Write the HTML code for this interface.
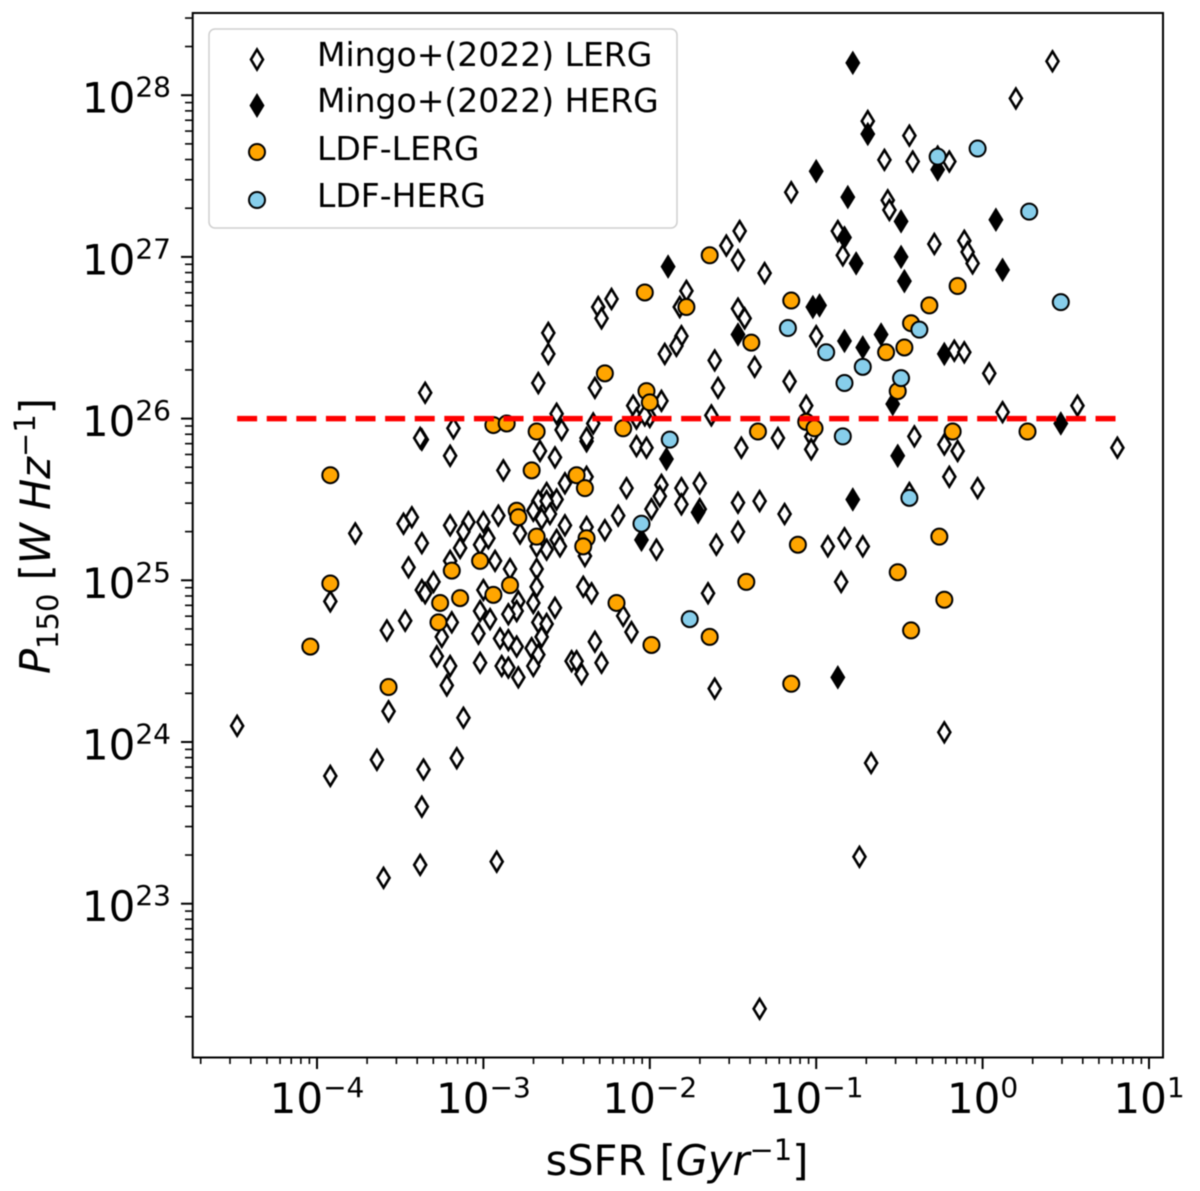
<!DOCTYPE html>
<html lang="en">
<head>
<meta charset="utf-8">
<title>sSFR vs P150</title>
<style>
html,body{margin:0;padding:0;background:#fff;}
svg{display:block;font-family:"DejaVu Sans",sans-serif;fill:#000;filter:blur(0.5px);}
</style>
</head>
<body>
<svg id="chart" xmlns="http://www.w3.org/2000/svg" width="1200" height="1191" viewBox="0 0 1200 1191">
  <rect x="193" y="13" width="970" height="1044" fill="#fff"/>
  <g id="ticks"></g>
  <g id="mingo-lerg"></g>
  <g id="mingo-herg"></g>
  <g id="ldf-lerg"></g>
  <g id="ldf-herg"></g>
  <line id="ref-line" stroke="#ff0000" stroke-width="5.5" stroke-dasharray="20 9.6"/>
  <rect x="192.7" y="13" width="970.3" height="1044.5" fill="none" stroke="#000" stroke-width="2"/>
  <g>
    <rect x="209" y="29" width="468" height="199" rx="6" fill="#fff" fill-opacity="0.85" stroke="#cfcfcf" stroke-width="1.5"/>
    <path d="M257 49.5 L263 59.5 L257 69.5 L251 59.5 Z" fill="#fff" stroke="#000" stroke-width="2.6"/>
    <text x="317" y="66" font-size="33">Mingo+(2022) LERG</text>
    <path d="M257 95.5 L263 105.5 L257 115.5 L251 105.5 Z" fill="#000" stroke="#000" stroke-width="2.6"/>
    <text x="317" y="112" font-size="33">Mingo+(2022) HERG</text>
    <circle cx="257" cy="152" r="8" fill="#ffa500" stroke="#000" stroke-width="2"/>
    <text x="317" y="160" font-size="33">LDF-LERG</text>
    <circle cx="257" cy="200" r="8" fill="#87ceeb" stroke="#000" stroke-width="2"/>
    <text x="317" y="207" font-size="33">LDF-HERG</text>
  </g>
  <text x="677" y="1175" font-size="41.5" text-anchor="middle">sSFR [<tspan font-style="italic">Gyr</tspan><tspan font-size="29" dy="-15">−1</tspan><tspan dy="15">]</tspan></text>
  <text transform="translate(50 536) rotate(-90)" font-size="41.5" text-anchor="middle"><tspan font-style="italic">P</tspan><tspan font-size="29" dy="8">150</tspan><tspan dy="-8"> [</tspan><tspan font-style="italic">W Hz</tspan><tspan font-size="29" dy="-15">−1</tspan><tspan dy="15">]</tspan></text>
</svg>
<script>
// Values are log10(sSFR / Gyr^-1) and log10(P150 / W Hz^-1).
var xTickExponents = [-4, -3, -2, -1, 0, 1];
var yTickExponents = [28, 27, 26, 25, 24, 23];
var referenceLogP = 26;
var referenceLogSSFR = [-4.48, 0.81];

var mingoLergLogSSFR = [-3.37,-3.20,-2.66,-2.57,-2.88,-2.38,-2.38,-2.51,-2.62,-2.67,-2.56,-2.62,-2.70,-2.60,-2.91,-3.09,-3.20,-3.00,-3.43,-3.48,-3.77,-3.37,-3.12,-3.14,-2.97,-3.02,-2.65,-2.78,-2.51,-2.56,-2.54,-2.62,-2.68,-2.38,-2.39,-2.93,-3.45,-3.20,-3.30,-3.37,-3.35,-2.84,-2.68,-2.68,-3.00,-2.40,-2.35,-2.70,-2.79,-2.80,-2.85,-2.57,-3.02,-2.96,-3.19,-3.47,-3.58,-3.92,-3.25,-3.03,-2.90,-2.85,-2.80,-2.67,-2.62,-2.65,-2.71,-2.67,-2.33,-3.28,-3.20,-3.02,-2.89,-2.85,-2.79,-2.70,-2.47,-2.44,-2.41,-2.29,-3.22,-3.57,-3.12,-4.48,-3.92,-3.64,-3.36,-3.16,-3.37,-3.38,-3.60,-2.92,-1.34,-0.74,-0.67,-0.23,-1.61,-2.16,-2.11,-2.27,-2.19,-2.14,-1.93,-1.94,-1.99,-1.96,-1.81,-1.81,-1.70,-1.70,-1.60,-1.65,-1.47,-1.47,-1.34,-1.19,-0.93,-0.83,-0.72,-0.85,-0.44,-0.20,-0.03,0.81,0.57,0.12,0.04,-0.41,-0.23,-0.15,-1.46,-1.54,-1.47,-1.31,-1.78,-1.82,-1.47,-1.43,-2.23,-2.31,-2.29,-2.61,-2.61,-2.67,-1.81,-1.84,-1.91,-1.61,-1.59,-1.37,-1.16,-2.33,-1.93,-2.10,-2.08,-2.00,-2.03,-1.63,-2.34,-2.38,-2.56,-2.53,-2.08,-2.02,-1.45,-1.23,-1.06,-1.03,-1.03,0.42,0.20,-0.69,-0.44,-0.59,-0.42,-0.27,-0.20,-1.15,-0.57,-0.56,-0.87,-0.84,-0.29,-0.11,-0.09,-0.06,-1.00,-0.17,-0.11,-3.35,-3.38,-3.18];
var mingoLergLogP = [25.87,25.77,25.80,25.76,25.68,25.86,25.64,25.60,25.54,25.49,25.50,25.49,25.43,25.41,25.40,25.36,25.34,25.36,25.39,25.35,25.29,25.23,25.30,25.20,25.26,25.22,25.38,25.29,25.34,25.25,25.21,25.19,25.21,25.33,25.15,25.12,25.08,25.12,24.99,24.94,24.92,25.07,25.07,24.96,24.94,24.96,24.92,24.86,24.87,24.81,24.79,24.83,24.81,24.76,24.74,24.75,24.69,24.87,24.65,24.67,24.64,24.63,24.59,24.74,24.73,24.65,24.58,24.54,24.62,24.53,24.47,24.49,24.47,24.46,24.40,24.47,24.50,24.50,24.42,24.49,24.35,24.19,24.15,24.10,23.79,23.89,23.83,23.90,23.60,23.24,23.16,23.26,22.35,23.29,23.87,24.06,24.33,24.78,24.68,25.31,25.40,25.57,25.59,25.52,25.44,25.19,25.57,25.47,25.60,25.44,25.22,24.92,25.30,25.48,25.49,25.41,25.21,25.26,25.21,24.99,25.54,25.64,25.57,25.82,26.08,26.04,26.28,25.89,25.84,25.80,27.16,27.07,26.98,26.90,26.79,26.69,26.68,26.62,26.74,26.69,26.62,26.53,26.40,26.22,26.51,26.45,26.40,26.36,26.19,26.32,26.23,26.19,26.11,26.08,26.00,26.01,26.02,26.02,25.97,25.88,26.03,25.93,25.83,25.82,25.82,25.88,26.08,25.89,25.81,28.21,27.98,27.84,27.75,27.60,27.59,27.62,27.59,27.40,27.35,27.29,27.16,27.01,27.08,27.10,27.03,26.96,26.51,26.42,26.41,26.16,25.88,25.94];

var mingoHergLogSSFR = [-0.78,-0.69,-1.00,-0.81,-0.49,0.08,0.12,-0.83,-0.76,-0.49,-0.47,-0.27,-1.02,-0.98,-1.89,-1.47,-0.83,-0.72,-0.61,-0.23,-0.54,-1.90,-1.71,-2.05,-0.78,-0.51,0.47,-0.87];
var mingoHergLogP = [28.20,27.76,27.53,27.37,27.22,27.23,26.92,27.12,26.96,27.00,26.85,27.54,26.69,26.70,26.94,26.52,26.48,26.44,26.52,26.40,26.09,25.75,25.42,25.25,25.50,25.77,25.97,24.40];

var ldfLergLogSSFR = [-3.92,-3.92,-4.04,-3.57,-2.71,-2.44,-2.39,-2.80,-2.79,-2.68,-2.38,-2.40,-3.02,-3.19,-2.84,-2.94,-3.14,-3.26,-3.27,-2.94,-2.86,-2.68,-1.64,-2.03,-1.78,-1.15,-1.39,-2.27,-2.02,-2.00,-2.16,-1.35,-1.06,-1.01,-0.58,-0.47,-0.43,-0.32,-0.15,-0.51,-0.18,0.27,-0.26,-0.51,-0.23,-0.43,-1.11,-1.42,-2.20,-1.99,-1.64,-1.15];
var ldfLergLogP = [25.65,24.98,24.59,24.34,25.68,25.65,25.57,25.43,25.39,25.27,25.26,25.21,25.12,25.06,24.97,24.91,24.89,24.86,24.74,25.96,25.97,25.92,27.01,26.78,26.69,26.73,26.47,26.28,26.17,26.10,25.94,25.92,25.98,25.94,26.41,26.44,26.59,26.70,26.82,26.17,25.92,25.92,25.27,25.05,24.88,24.69,25.22,24.99,24.86,24.60,24.65,24.36];

var ldfHergLogSSFR = [-0.27,-0.03,0.28,0.47,-1.17,-0.94,-0.83,-0.72,-0.49,-0.38,-0.84,-1.88,-2.05,-0.44,-1.76];
var ldfHergLogP = [27.62,27.67,27.28,26.72,26.56,26.41,26.22,26.32,26.25,26.55,25.89,25.87,25.35,25.51,24.76];

var SVG_NS = 'http://www.w3.org/2000/svg';

function xScale(logValue) { return 317 + (logValue + 4) * 166.4; }
function yScale(logValue) { return 95.2 + (28 - logValue) * 161.7; }

function make(tag, parent) {
  var el = document.createElementNS(SVG_NS, tag);
  parent.appendChild(el);
  return el;
}

function drawTick(parent, x1, y1, x2, y2, width) {
  var t = make('line', parent);
  
  
  t.setAttribute('x1', x1);
  t.setAttribute('y1', y1);
  t.setAttribute('x2', x2);
  t.setAttribute('y2', y2);
  t.setAttribute('stroke', '#000');
  t.setAttribute('stroke-width', width);
}

function drawTickLabel(parent, x, y, anchor, exponent) {
  var label = make('text', parent);
  
  
  label.setAttribute('x', x);
  label.setAttribute('y', y);
  label.setAttribute('font-size', '42');
  label.setAttribute('text-anchor', anchor);
  label.appendChild(document.createTextNode('10'));
  var sup = make('tspan', label);
  sup.setAttribute('font-size', '28');
  sup.setAttribute('dy', '-16');
  sup.textContent = String(exponent).replace('-', '\u2212');
}

function drawAxes() {
  var g = document.getElementById('ticks');
  var i, d, m, pos;
  for (d = -5; d <= 1; d++) {
    for (m = 2; m <= 9; m++) {
      pos = xScale(d + Math.log10(m));
      if (pos > 193 && pos < 1163) drawTick(g, pos, 1057, pos, 1064, 1.6);
    }
  }
  for (d = 22; d <= 28; d++) {
    for (m = 2; m <= 9; m++) {
      pos = yScale(d + Math.log10(m));
      if (pos > 13 && pos < 1057) drawTick(g, 193, pos, 185, pos, 1.6);
    }
  }
  for (i = 0; i < xTickExponents.length; i++) {
    pos = xScale(xTickExponents[i]);
    drawTick(g, pos, 1057, pos, 1069, 2);
    drawTickLabel(g, pos, 1113, 'middle', xTickExponents[i]);
  }
  for (i = 0; i < yTickExponents.length; i++) {
    pos = yScale(yTickExponents[i]);
    drawTick(g, 193, pos, 181, pos, 2);
    drawTickLabel(g, 171, pos + 17.5, 'end', yTickExponents[i]);
  }
}

function drawDiamonds(groupId, xs, ys, fill) {
  var g = document.getElementById(groupId);
  for (var i = 0; i < xs.length; i++) {
    var cx = xScale(xs[i]);
    var cy = yScale(ys[i]);
    var p = make('path', g);
    
    
    p.setAttribute('d', 'M' + cx + ' ' + (cy - 9.8) + ' L' + (cx + 6) + ' ' + cy + ' L' + cx + ' ' + (cy + 9.8) + ' L' + (cx - 6) + ' ' + cy + ' Z');
    p.setAttribute('fill', fill);
    p.setAttribute('stroke', '#000');
    p.setAttribute('stroke-width', '2.6');
  }
}

function drawCircles(groupId, xs, ys, fill) {
  var g = document.getElementById(groupId);
  for (var i = 0; i < xs.length; i++) {
    var c = make('circle', g);
    
    
    c.setAttribute('cx', xScale(xs[i]));
    c.setAttribute('cy', yScale(ys[i]));
    c.setAttribute('r', '8');
    c.setAttribute('fill', fill);
    c.setAttribute('stroke', '#000');
    c.setAttribute('stroke-width', '2');
  }
}

drawAxes();
drawDiamonds('mingo-lerg', mingoLergLogSSFR, mingoLergLogP, '#ffffff');
drawDiamonds('mingo-herg', mingoHergLogSSFR, mingoHergLogP, '#000000');
drawCircles('ldf-lerg', ldfLergLogSSFR, ldfLergLogP, '#ffa500');
drawCircles('ldf-herg', ldfHergLogSSFR, ldfHergLogP, '#87ceeb');

var refLine = document.getElementById('ref-line');
refLine.setAttribute('x1', xScale(referenceLogSSFR[0]));
refLine.setAttribute('x2', xScale(referenceLogSSFR[1]));
refLine.setAttribute('y1', yScale(referenceLogP));
refLine.setAttribute('y2', yScale(referenceLogP));
</script>
</body>
</html>
